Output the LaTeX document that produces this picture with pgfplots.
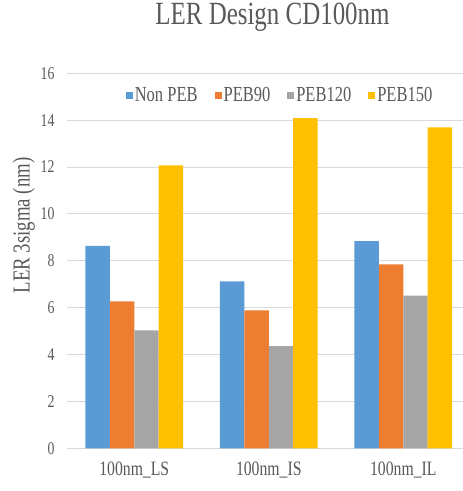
\documentclass[border=0pt]{standalone}
\usepackage{fontspec}
\setmainfont[FakeStretch=0.77]{Liberation Serif}
\usepackage{pgfplots}
\pgfplotsset{compat=1.18}
\definecolor{cblue}{HTML}{5B9BD5}
\definecolor{corange}{HTML}{ED7D31}
\definecolor{cgray}{HTML}{A5A5A5}
\definecolor{cyellow}{HTML}{FFC000}
\definecolor{cgrid}{HTML}{D9D9D9}
\definecolor{ctext}{HTML}{595959}
\begin{document}
\begin{tikzpicture}
\path[use as bounding box] (-67bp,-42.7bp) rectangle (396bp,448.3bp);
\begin{axis}[
  at={(0,0)}, anchor=south west,
  scale only axis,
  width=396bp, height=375bp,
  xmin=-0.5, xmax=2.444,
  ymin=0, ymax=16,
  ytick={0,2,...,16},
  xtick={0,1,2},
  xticklabels={100nm\_LS,100nm\_IS,100nm\_IL},
  ybar=0pt, bar width=24.4bp,
  axis line style={draw=none},
  major tick length=0pt,
  ymajorgrids, grid style={cgrid, line width=1bp},
  /pgf/number format/assume math mode=true,
  yticklabel style={font=\fontsize{18}{18}\selectfont, text=ctext, xshift=-9bp},
  xticklabel style={font=\fontsize{20.5}{20.5}\selectfont, text=ctext, yshift=-10bp},
  ylabel={LER 3sigma (nm)},
  ylabel style={at={(axis description cs:-0.109,0.594)}, anchor=center, font=\fontsize{24.5}{24.5}\selectfont, text=ctext},
  title={LER Design CD100nm},
  title style={at={(axis description cs:0.519,1.113)}, anchor=base, font=\fontsize{32.5}{32.5}\selectfont, text=ctext},
  legend columns=4,
  legend style={at={(axis description cs:0.538,0.942)}, anchor=center, draw=none, fill=none,
    font=\fontsize{21.5}{21.5}\selectfont, text=ctext,
    /tikz/every even column/.append style={column sep=15bp}},
  legend image code/.code={\fill[#1] (0bp,-3.5bp) rectangle (7bp,3.5bp);},
]
\addplot[fill=cblue, draw=none] coordinates {(0,8.64) (1,7.12) (2,8.84)};
\addplot[fill=corange, draw=none] coordinates {(0,6.27) (1,5.89) (2,7.85)};
\addplot[fill=cgray, draw=none] coordinates {(0,5.03) (1,4.36) (2,6.51)};
\addplot[fill=cyellow, draw=none] coordinates {(0,12.07) (1,14.09) (2,13.69)};
\legend{Non PEB,PEB90,PEB120,PEB150}
\end{axis}
\end{tikzpicture}
\end{document}
